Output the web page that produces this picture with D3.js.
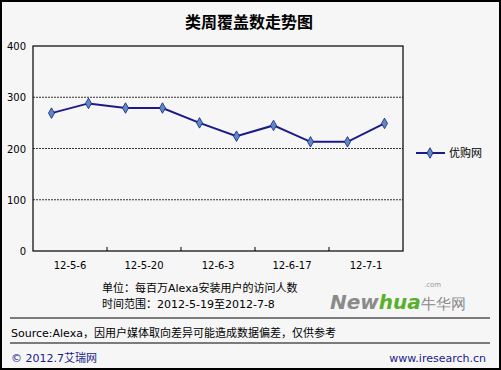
<!DOCTYPE html>
<html>
<head>
<meta charset="utf-8">
<script src="https://cdn.jsdelivr.net/npm/d3@7"></script>
<style>
  body { margin: 0; background: #fff; }
  svg { display: block; font-family: Verdana, "DejaVu Sans", "Noto Sans CJK SC", sans-serif; }
</style>
</head>
<body>
<svg id="chart"></svg>
<script>
// data
let dates = ["12-5-6", "12-5-13", "12-5-20", "12-5-27", "12-6-3", "12-6-10", "12-6-17", "12-6-24", "12-7-1", "12-7-8"]
let values = [269, 288, 279, 279, 250, 224, 245, 213, 213, 249]
let seriesName = "优购网"
let yTicks = [0, 100, 200, 300, 400]

let W = 501, H = 370
let plot = { left: 33, top: 46, right: 403, bottom: 251 }

let svg = d3.select('#chart').attr('width', W).attr('height', H)

// background + frame
svg.append('rect').attr('x', 1).attr('y', 1).attr('width', W - 2).attr('height', H - 2)
    .attr('fill', '#f6f6f6').attr('stroke', '#000').attr('stroke-width', 2)

svg.append('text').attr('x', 249).attr('y', 28).attr('text-anchor', 'middle')
    .style('font-size', '16px').style('font-weight', 'bold')
    .style('font-family', '"Noto Sans CJK SC", sans-serif')
    .text('类周覆盖数走势图')

let x = d3.scaleBand().domain(dates).range([plot.left, plot.right])
let y = d3.scaleLinear().domain([0, 400]).range([plot.bottom, plot.top])

// dashed grid
svg.selectAll('.grid').data(yTicks.filter(d => d > 0 && d < 400))
    .enter().append('line')
    .attr('x1', plot.left).attr('x2', plot.right)
    .attr('y1', d => y(d)).attr('y2', d => y(d))
    .attr('stroke', '#333').attr('stroke-width', 1).attr('stroke-dasharray', '2,1')

// plot border
svg.append('rect').attr('x', plot.left).attr('y', plot.top)
    .attr('width', plot.right - plot.left).attr('height', plot.bottom - plot.top)
    .attr('fill', 'none').attr('stroke', '#000').attr('stroke-width', 1.2)

// y labels
svg.selectAll('.ylab').data(yTicks).enter().append('text')
    .attr('x', 26).attr('y', d => y(d) + 4).attr('text-anchor', 'end')
    .style('font-size', '10px').text(d => d)

// x ticks every two weeks, labels centred in each pair
let groups = d3.range(0, dates.length, 2)
svg.selectAll('.xtick').data(groups.slice(1)).enter().append('line')
    .attr('x1', d => x(dates[d])).attr('x2', d => x(dates[d]))
    .attr('y1', plot.bottom).attr('y2', plot.bottom - 4)
    .attr('stroke', '#000')
svg.selectAll('.xlab').data(groups).enter().append('text')
    .attr('x', d => x(dates[d]) + x.bandwidth())
    .attr('y', 269).attr('text-anchor', 'middle')
    .style('font-size', '10px').text(d => dates[d])

// line
let line = d3.line().x((d, i) => x(dates[i]) + x.bandwidth() / 2).y(d => y(d))
svg.append('path').datum(values).attr('d', line)
    .attr('fill', 'none').attr('stroke', '#1a1a8c').attr('stroke-width', 2)

let diamond = d3.symbol().type(d3.symbolDiamond).size(32)
svg.selectAll('.pt').data(values).enter().append('path')
    .attr('d', diamond)
    .attr('transform', (d, i) => `translate(${x(dates[i]) + x.bandwidth() / 2},${y(d)})`)
    .attr('fill', '#5b8cc0').attr('stroke', '#1a1a8c').attr('stroke-width', 0.8)

// legend
svg.append('line').attr('x1', 416).attr('x2', 445).attr('y1', 153).attr('y2', 153)
    .attr('stroke', '#1a1a8c').attr('stroke-width', 2)
svg.append('path').attr('d', diamond).attr('transform', 'translate(430,153)')
    .attr('fill', '#5b8cc0').attr('stroke', '#1a1a8c').attr('stroke-width', 0.8)
svg.append('text').attr('x', 449).attr('y', 157).style('font-size', '11px').text(seriesName)

// notes
svg.append('text').attr('x', 102).attr('y', 292).style('font-size', '11px').text('单位：每百万Alexa安装用户的访问人数')
svg.append('text').attr('x', 102).attr('y', 308).style('font-size', '11px').text('时间范围：2012-5-19至2012-7-8')

// watermark
let wm = svg.append('text').attr('x', 330).attr('y', 309)
    .style('font-size', '20px').style('font-weight', 'bold').style('font-style', 'italic')
    .style('font-family', '"DejaVu Sans", sans-serif')
wm.append('tspan').attr('fill', '#8a8a8a').text('New')
wm.append('tspan').attr('fill', '#59b02a').text('hua')
wm.append('tspan').attr('fill', '#8a8a8a').style('font-size', '15px').style('font-style', 'normal')
    .style('font-weight', 'normal').text('牛华网')
svg.append('text').attr('x', 424).attr('y', 287).attr('fill', '#9a9a9a')
    .style('font-size', '7px').text('.com')

// separators + footer
svg.selectAll('.sep').data([318, 343]).enter().append('line')
    .attr('x1', 10).attr('x2', 490).attr('y1', d => d).attr('y2', d => d)
    .attr('stroke', '#000').attr('stroke-width', 1)
svg.append('text').attr('x', 11).attr('y', 337).style('font-size', '11px').text('Source:Alexa，因用户媒体取向差异可能造成数据偏差，仅供参考')
svg.append('text').attr('x', 11).attr('y', 362).attr('fill', '#1a1a8c').style('font-size', '11px').text('© 2012.7艾瑞网')
svg.append('text').attr('x', 486).attr('y', 362).attr('text-anchor', 'end').attr('fill', '#1a1a8c')
    .style('font-size', '11px').text('www.iresearch.cn')
</script>
</body>
</html>
